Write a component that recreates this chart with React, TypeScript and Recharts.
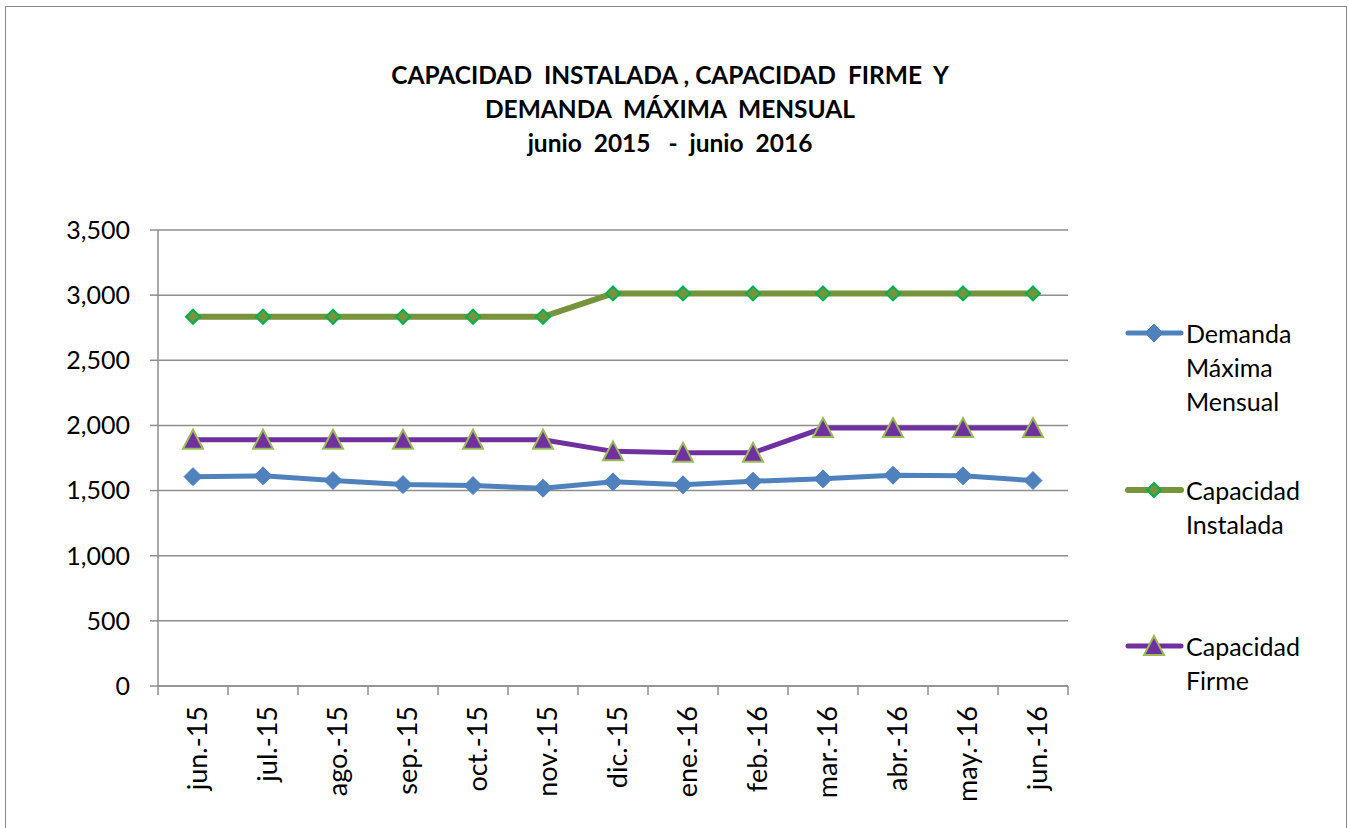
import { LineChart, Line, XAxis, YAxis, CartesianGrid } from 'recharts'

const months = ['jun.-15', 'jul.-15', 'ago.-15', 'sep.-15', 'oct.-15', 'nov.-15', 'dic.-15', 'ene.-16', 'feb.-16', 'mar.-16', 'abr.-16', 'may.-16', 'jun.-16']
const demanda = [1607, 1613, 1577, 1546, 1538, 1518, 1567, 1544, 1572, 1590, 1618, 1613, 1577]
const instalada = [2834, 2834, 2834, 2834, 2834, 2834, 3013, 3013, 3013, 3013, 3013, 3013, 3013]
const firme = [1890, 1890, 1890, 1890, 1890, 1890, 1801, 1790, 1790, 1980, 1980, 1980, 1980]
const yTicks = [0, 500, 1000, 1500, 2000, 2500, 3000, 3500]

const data = months.map((m, i) => ({ mes: m, demanda: demanda[i], instalada: instalada[i], firme: firme[i] }))

const FONT = 'Lato, "Open Sans", sans-serif'
const BLUE = '#4F81BD'
const OLIVE = '#77933C'
const PURPLE = '#7030A0'
const GRID = '#8e8e8e'
const BAND = (1068 - 158) / months.length

const BlueDiamond = ({ cx, cy }: any) => (
  <polygon points={`${cx},${cy - 9} ${cx + 9},${cy} ${cx},${cy + 9} ${cx - 9},${cy}`} fill={BLUE} stroke={BLUE} strokeWidth={1} />
)
const GreenDiamond = ({ cx, cy }: any) => (
  <polygon points={`${cx},${cy - 7} ${cx + 7},${cy} ${cx},${cy + 7} ${cx - 7},${cy}`} fill={OLIVE} stroke="#00B050" strokeWidth={2} />
)
const Triangle = ({ cx, cy }: any) => (
  <polygon points={`${cx},${cy - 10} ${cx + 10},${cy + 9} ${cx - 10},${cy + 9}`} fill={PURPLE} stroke="#9BBB59" strokeWidth={2} />
)

const series = [
  { key: 'demanda', name: 'Demanda Máxima Mensual', color: BLUE, width: 5, Dot: BlueDiamond, top: 316 },
  { key: 'instalada', name: 'Capacidad Instalada', color: OLIVE, width: 6, Dot: GreenDiamond, top: 473 },
  { key: 'firme', name: 'Capacidad Firme', color: PURPLE, width: 5, Dot: Triangle, top: 629 },
]

// tick marks sit on category boundaries, like the spreadsheet
const MonthTick = ({ x, y, payload, index }: any) => (
  <g>
    <line x1={x - BAND / 2} x2={x - BAND / 2} y1={y - 9} y2={y} stroke={GRID} strokeWidth={1.5} />
    {index === months.length - 1 && (
      <line x1={x + BAND / 2} x2={x + BAND / 2} y1={y - 9} y2={y} stroke={GRID} strokeWidth={1.5} />
    )}
    <text x={x + 14} y={y + 11} transform={`rotate(-90 ${x + 14} ${y + 11})`} textAnchor="end" fontSize={27} fontFamily={FONT} fill="#000">
      {payload.value}
    </text>
  </g>
)

export default function App() {
  return (
    <div style={{ position: 'absolute', left: 0, top: 0, width: 1348, height: 828, overflow: 'hidden', background: '#fff' }}>
      <div style={{ position: 'absolute', left: 5, top: 6, width: 1340, height: 840, border: '1.5px solid #888' }} />
      <div
        style={{
          position: 'absolute', left: 370, width: 600, top: 58, textAlign: 'center', whiteSpace: 'pre',
          fontFamily: FONT, fontWeight: 700, fontSize: 24.5, lineHeight: '34px', color: '#000',
        }}
      >
        {'CAPACIDAD  INSTALADA , CAPACIDAD  FIRME  Y\nDEMANDA  MÁXIMA  MENSUAL\njunio  2015   -  junio  2016'}
      </div>
      <LineChart width={1348} height={828} data={data} margin={{ top: 230, right: 280, left: 0, bottom: 0 }} style={{ position: 'absolute', left: 0, top: 0 }}>
        <CartesianGrid vertical={false} stroke={GRID} strokeWidth={1.5} />
        <XAxis
          dataKey="mes"
          height={142}
          padding={{ left: BAND / 2, right: BAND / 2 }}
          axisLine={{ stroke: GRID, strokeWidth: 1.5 }}
          tickLine={false}
          tickSize={9}
          tickMargin={0}
          interval={0}
          tick={<MonthTick />}
        />
        <YAxis
          width={158}
          domain={[0, 3500]}
          ticks={yTicks}
          interval={0}
          tickSize={8}
          tickMargin={20}
          axisLine={{ stroke: GRID, strokeWidth: 1.5 }}
          tickLine={{ stroke: GRID, strokeWidth: 1.5 }}
          tick={{ fontSize: 25, fontFamily: FONT, fill: '#000' }}
          tickFormatter={(v: number) => v.toLocaleString('en-US')}
        />
        {series.map((s) => (
          <Line
            key={s.key}
            type="linear"
            dataKey={s.key}
            name={s.name}
            stroke={s.color}
            strokeWidth={s.width}
            dot={(p: any) => <s.Dot key={`${s.key}-${p.index}`} cx={p.cx} cy={p.cy} />}
            activeDot={false}
            isAnimationActive={false}
          />
        ))}
      </LineChart>
      {series.map((s) => (
        <div key={s.key} style={{ position: 'absolute', left: 1125, top: s.top, display: 'flex', alignItems: 'flex-start' }}>
          <svg width={60} height={34} style={{ flex: 'none' }}>
            <line x1={3} x2={56} y1={17} y2={17} stroke={s.color} strokeWidth={s.width} strokeLinecap="round" />
            <s.Dot cx={29} cy={17} />
          </svg>
          <div style={{ width: 140, fontFamily: FONT, fontSize: 25, lineHeight: '34px', color: '#000', marginLeft: 1 }}>{s.name}</div>
        </div>
      ))}
    </div>
  )
}
